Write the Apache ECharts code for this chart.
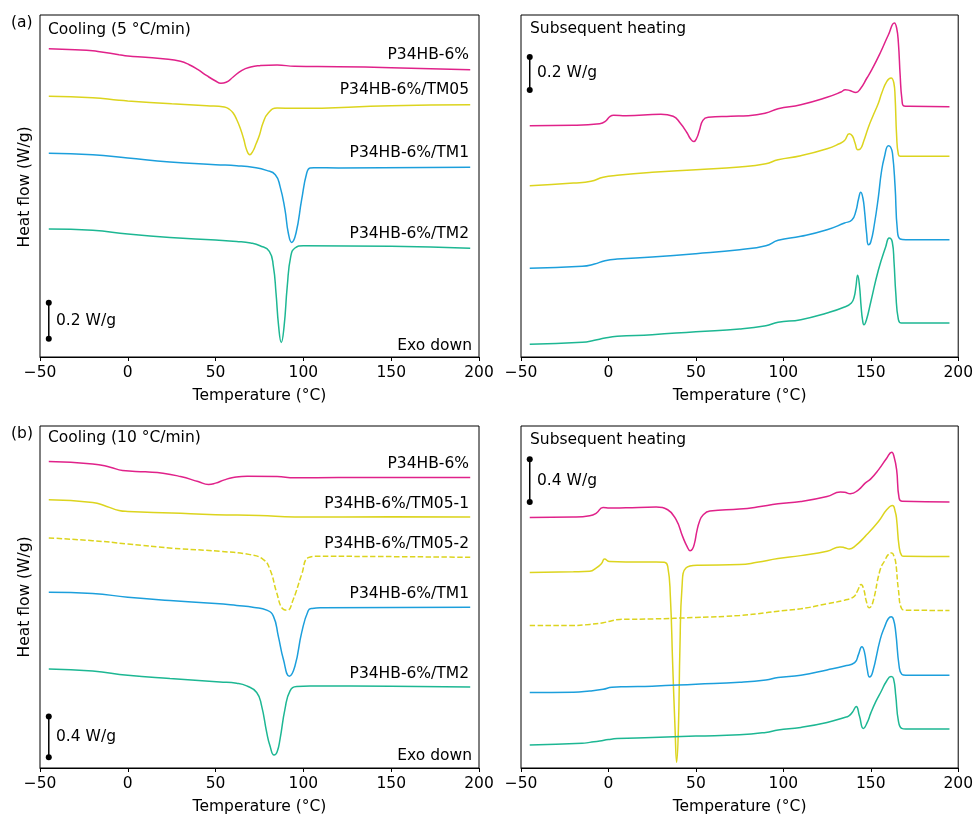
<!DOCTYPE html>
<html>
<head>
<meta charset="utf-8">
<script src="https://cdn.jsdelivr.net/npm/echarts@6/dist/echarts.min.js"></script>
<style>
html,body{margin:0;padding:0;background:#fff;}
#chart{width:976px;height:816px;}
</style>
</head>
<body>
<div id="chart"></div>
<script>
// ---- axis ticks ----
const xTicks = [-50, 0, 50, 100, 150, 200];

// ---- series names ----
const namesA = ['P34HB-6%', 'P34HB-6%/TM05', 'P34HB-6%/TM1', 'P34HB-6%/TM2'];
const namesB = ['P34HB-6%', 'P34HB-6%/TM05-1', 'P34HB-6%/TM05-2', 'P34HB-6%/TM1', 'P34HB-6%/TM2'];

// ---- (a) cooling 5 °C/min : [T (°C), heat flow (a.u., curves offset)] ----
const coolA_P34HB = [[-45,308.3],[-30,307.3],[-20,306.3],[-15,305],[-5,302.3],[0,301],[10,299.7],[20,298.3],[30,295.7],[35,292.3],[40,287.3],[45,281.3],[50,276],[53,273.7],[56,274.7],[60,280],[65,286.7],[70,290],[75,291.3],[85,292],[95,290.7],[120,290.3],[150,289.3],[195,287.3]];
const coolA_TM05 = [[-45,260.7],[-20,259.3],[-5,256.7],[0,256],[25,253.3],[45,251.3],[55,250],[58,247.5],[60,244],[62,237.5],[64,229],[66,218],[67.7,207],[69.5,202.3],[71.3,206],[73,213],[75,222],[77,234],[80,244],[85,249],[95,248.7],[150,251.3],[195,252.3]];
const coolA_TM1 = [[-45,203.7],[-20,202.3],[0,199],[24,195],[50,192.3],[62,191.3],[72,189.5],[79,186.6],[84,182.3],[86.7,170.6],[89.5,147.3],[91.4,124],[93.3,114.6],[95.8,124],[99,157.3],[101.9,184],[103.8,189],[106,189.3],[120,189],[195,189.7]];
const coolA_TM2 = [[-45,128],[-20,126.7],[0,123],[24,119.6],[50,117],[62,115.6],[70,114],[75.3,111.3],[80.6,105.6],[82.9,90.6],[84.4,64],[85.9,30.6],[87.4,14.6],[89,30.6],[90.8,70.6],[92.8,100.6],[95.2,109],[100,111.3],[150,110.7],[195,108.7]];

// ---- (a) subsequent heating ----
const heatA_P34HB = [[-45,231.3],[-20,231.7],[-5,233.3],[-2,235.3],[1,240.7],[3,241.7],[10,241.3],[30,242.7],[37,240.7],[41,234],[45,224],[47,218],[48.8,215.5],[50.5,219],[52,226.5],[54,236.7],[57,239.7],[70,240.7],[80,241.3],[90,244],[97,248.3],[110,252.3],[125,259.7],[133,265],[135.4,267.3],[138,266.5],[141.5,264.6],[144,268],[147.8,279],[150.6,287.3],[155.4,304],[160.1,322.3],[163.5,334],[164.8,329],[165.8,314],[166.8,282],[167.8,258],[169,251],[172,250.7],[195,250.3]];
const heatA_TM05 = [[-45,171.3],[-20,174],[-10,175.7],[-3,179.7],[5,181.7],[25,184.7],[50,187.3],[75,190],[90,193.3],[97,197.3],[110,201.3],[125,208.3],[132,213.3],[135,216.5],[137.7,223.3],[139.5,221],[141,214],[142.6,207.3],[144,208],[146,216],[148.7,230],[151,240],[154.4,254],[156.3,264],[159.2,275.6],[161.6,279],[163.2,274],[163.9,260.6],[164.8,220.6],[165.8,202.3],[167,200.7],[195,200.7]];
const heatA_TM1 = [[-45,88.7],[-15,90.7],[-8,93],[-2,96.3],[5,98],[25,100],[50,103.3],[75,107.3],[90,111.3],[97,116.7],[110,120.7],[125,127.3],[135,134],[139.2,137],[141.5,146],[143,158],[144.3,164.7],[145.5,159],[146.5,145],[147.6,124],[148.7,112.3],[150,115],[152,132],[154.4,160.7],[156,184],[157.8,200],[160.1,211.3],[161.3,210],[162.4,204],[163.9,170.6],[165.2,127.3],[166.8,118],[170,117.3],[195,117.3]];
const heatA_TM2 = [[-45,12.7],[-15,14.7],[-8,16.7],[-2,19],[5,20.7],[25,22.3],[50,25.3],[75,28],[90,31.3],[97,34.7],[110,37.3],[125,44],[135,50],[138.9,54],[140.5,60],[141.5,70],[142.5,81.7],[143.5,72],[144.5,50],[145.3,37],[146.1,32.3],[147.5,37],[150,55],[154.4,87.3],[158.6,110.6],[160.5,119],[162.3,115],[163.3,95],[164.3,64],[165.8,37.3],[167.5,34],[195,34]];

// ---- (b) cooling 10 °C/min ----
const coolB_P34HB = [[-45,307.3],[-20,305],[-10,301.7],[-3,298.3],[10,297],[20,295.7],[30,292.3],[40,287.3],[46,284.3],[50,285.7],[55,289],[60,291.3],[68,292.7],[85,292.3],[95,291],[120,291.3],[195,291.3]];
const coolB_TM05_1 = [[-45,269],[-20,266.3],[-12,262.3],[-5,258.3],[0,257.3],[25,255.7],[50,254],[75,253.3],[95,251.7],[150,252],[195,251.7]];
const coolB_TM05_2 = [[-45,230.7],[-20,228],[0,224.7],[25,220.5],[52.5,217.3],[69.6,214],[77.2,209],[81,199],[84.8,175.7],[88.2,159.7],[90.8,158.3],[94.2,169],[99,194],[102.8,211],[108,212.3],[150,212],[195,211.3]];
const coolB_TM1 = [[-45,176.3],[-20,175],[0,171.3],[24,168],[50,165],[62,163],[72,161],[79.1,158.3],[82.9,152.3],[85.7,132.3],[88.6,109],[92,92],[95.2,102.3],[99,135.7],[102.8,158],[105,160],[110,160.7],[195,161.3]];
const coolB_TM2 = [[-45,99.3],[-20,97.3],[0,93],[24,89.7],[52.5,86.3],[62,85],[67.7,82.3],[73.4,75.7],[76.2,62.3],[79.1,35.7],[81,22],[83.3,13],[85,16],[86.7,29],[89.5,59],[92.4,77.3],[96.2,81.7],[103.8,82.3],[150,82],[195,81.3]];

// ---- (b) subsequent heating ----
const heatB_P34HB = [[-45,251.3],[-20,251.7],[-10.7,253],[-6.9,255.7],[-3.1,261.3],[0.7,260.7],[10,261],[27.3,261.7],[33.9,259],[38.7,249],[42.4,232.3],[45,222],[46.7,218],[48,219.5],[49.3,226],[50.5,237],[52,247],[54,253.5],[58,257.7],[75,259.7],[85,261.7],[97,265],[110,267.3],[125,272.3],[132.6,276.7],[135,276.5],[138.3,275],[143,279],[146.8,285.7],[150,290],[154.4,299],[159.1,310.7],[162,316.7],[163.2,313],[164.8,299],[166.2,270.7],[168,267.5],[195,266.7]];
const heatB_TM05_1 = [[-45,196],[-20,196.7],[-10.7,197.3],[-6.9,200.7],[-4,205],[-2.2,209.5],[0.7,207],[10,206.7],[27.3,206.7],[32,206.3],[33.9,202.3],[35.4,172.3],[36.7,105.7],[38.1,39],[39,5.7],[40,39],[40.9,122.3],[42.1,182.3],[44.3,200.5],[51.9,203.3],[75,204],[85,206.3],[97,210],[110,213],[125,217.3],[132.4,221.7],[135,221],[137.7,219.7],[141,222.5],[146.8,232.3],[154.4,247.3],[159.1,259],[162.4,263.3],[164,257],[164.8,249],[166.2,222.3],[167.7,213],[169,212.3],[195,212]];
const heatB_TM05_2 = [[-45,143],[-20,143],[-10.7,144],[-3,145.7],[2,147.7],[6.4,149],[25,149.5],[50,151],[75,153],[90,155.7],[97,157.3],[110,159.7],[125,164.7],[135,168.3],[140.2,171.7],[142.5,178],[144.5,184],[146,179],[147.5,167],[149.1,160.7],[151,165],[155.4,199],[158,208],[160,214],[162,215.7],[163.5,211],[164.3,205.7],[165.8,179],[167.7,159.7],[170,158.3],[195,158]];
const heatB_TM1 = [[-45,75.7],[-20,76],[-10.7,77.3],[-3,79],[2,81],[10,81.5],[25,82],[50,84],[75,86],[90,88.3],[97,90.7],[110,93],[125,98.3],[135,102.3],[140.8,105.7],[143,114],[144.9,121.7],[146.3,117],[148,99],[149.3,91.3],[151,95.7],[155.4,129],[158,142],[160,149.7],[161.6,151.7],[163,149],[164.3,135.7],[166.2,102.3],[167.7,94],[170,93],[195,93]];
const heatB_TM2 = [[-45,23],[-15,24.7],[-10.7,25.7],[-5,27],[0,28.5],[5,29.5],[25,30.5],[50,32],[75,33.3],[90,35.7],[97,38],[110,40.7],[125,45.7],[135,50.7],[137.3,52],[139.5,56],[141.7,61.7],[143.5,52.3],[145.8,39.7],[148,45.7],[150,55],[153,67],[156,77],[159,87],[161.6,91.7],[163,89.7],[164.3,72.3],[165.8,47.3],[167.7,39.7],[170,39],[195,39]];

// ---- scale bars (same a.u. as curves) ----
const scaleA_cool = [[-45,18.3],[-45,54.3]];   // 0.2 W/g
const scaleA_heat = [[-45,267],[-45,300]];     // 0.2 W/g
const scaleB_cool = [[-45,10.7],[-45,51.7]];   // 0.4 W/g
const scaleB_heat = [[-45,266.7],[-45,309.7]]; // 0.4 W/g
const scaleLabels = ['0.2 W/g', '0.2 W/g', '0.4 W/g', '0.4 W/g'];

const C = {mag:'#e0228a', yel:'#dcd41e', blu:'#1c9fdc', tea:'#1db793'};
const FONT = 'DejaVu Sans';
const FS = 15.5;

const chart = echarts.init(document.getElementById('chart'), null, {renderer:'canvas'});

const grids = [
  {left:40, top:15, width:439, height:342},
  {left:521, top:15, width:439, height:342},
  {left:40, top:426, width:439, height:343},
  {left:521, top:426, width:439, height:343}
];
const yMax = [342, 342, 343, 343];

function xAxisFor(i){
  return {
    type:'value', gridIndex:i, min:xTicks[0], max:xTicks[xTicks.length-1], interval:50,
    axisLine:{show:true, onZero:false, lineStyle:{color:'#000', width:1}},
    axisTick:{show:true, inside:false, length:4, lineStyle:{color:'#000'}},
    axisLabel:{fontSize:FS, color:'#000', fontFamily:FONT, margin:8,
      formatter:v => v < 0 ? '\u2212' + Math.abs(v) : String(v)},
    splitLine:{show:false},
    name:'Temperature (°C)', nameLocation:'middle', nameGap:31,
    nameTextStyle:{fontSize:FS, color:'#000', fontFamily:FONT}
  };
}
function yAxisFor(i){
  return {type:'value', gridIndex:i, min:0, max:yMax[i], show:true,
    axisLine:{show:false}, axisTick:{show:false}, axisLabel:{show:false}, splitLine:{show:false}};
}

function line(data, color, gi, dashed){
  return {type:'line', data:data, xAxisIndex:gi, yAxisIndex:gi, showSymbol:false, symbol:'none',
    smooth:0.5, animation:false, silent:true,
    lineStyle:{color:color, width:1.5, type: dashed ? [5.5,2.4] : 'solid'}};
}
function scaleBar(data, gi){
  return {type:'line', data:data, xAxisIndex:gi, yAxisIndex:gi, showSymbol:true, symbol:'circle',
    symbolSize:6, animation:false, silent:true,
    itemStyle:{color:'#000'}, lineStyle:{color:'#000', width:1.5}};
}

const series = [
  line(coolA_P34HB, C.mag, 0), line(coolA_TM05, C.yel, 0), line(coolA_TM1, C.blu, 0), line(coolA_TM2, C.tea, 0),
  line(heatA_P34HB, C.mag, 1), line(heatA_TM05, C.yel, 1), line(heatA_TM1, C.blu, 1), line(heatA_TM2, C.tea, 1),
  line(coolB_P34HB, C.mag, 2), line(coolB_TM05_1, C.yel, 2), line(coolB_TM05_2, C.yel, 2, true), line(coolB_TM1, C.blu, 2), line(coolB_TM2, C.tea, 2),
  line(heatB_P34HB, C.mag, 3), line(heatB_TM05_1, C.yel, 3), line(heatB_TM05_2, C.yel, 3, true), line(heatB_TM1, C.blu, 3), line(heatB_TM2, C.tea, 3),
  scaleBar(scaleA_cool, 0), scaleBar(scaleA_heat, 1), scaleBar(scaleB_cool, 2), scaleBar(scaleB_heat, 3)
];

function txt(x, y, s, align, extra){
  return Object.assign({type:'text', x:x, y:y, silent:true, style:{text:s, fontSize:FS, fontFamily:FONT, fill:'#000',
    textAlign:align || 'left', textVerticalAlign:'middle'}}, extra || {});
}

const graphics = [
  txt(11, 22.5, '(a)'),
  txt(48, 30, 'Cooling (5 °C/min)'),
  txt(469, 54.5, namesA[0], 'right'),
  txt(469, 90.3, namesA[1], 'right'),
  txt(469, 153, namesA[2], 'right'),
  txt(469, 234, namesA[3], 'right'),
  txt(472, 346, 'Exo down', 'right'),
  txt(56, 320.7, scaleLabels[0]),
  txt(530, 29, 'Subsequent heating'),
  txt(537, 73.3, scaleLabels[1]),
  txt(11, 434, '(b)'),
  txt(48, 438.3, 'Cooling (10 °C/min)'),
  txt(469, 464, namesB[0], 'right'),
  txt(469, 503.7, namesB[1], 'right'),
  txt(469, 544.3, namesB[2], 'right'),
  txt(469, 594.3, namesB[3], 'right'),
  txt(469, 674.3, namesB[4], 'right'),
  txt(472, 756, 'Exo down', 'right'),
  txt(56, 737.3, scaleLabels[2]),
  txt(530, 440, 'Subsequent heating'),
  txt(537, 480.7, scaleLabels[3]),
  {type:'text', x:25, y:187, rotation:Math.PI/2, silent:true,
    style:{text:'Heat flow (W/g)', fontSize:FS, fontFamily:FONT, fill:'#000', textAlign:'center', textVerticalAlign:'middle'}},
  {type:'text', x:25, y:597, rotation:Math.PI/2, silent:true,
    style:{text:'Heat flow (W/g)', fontSize:FS, fontFamily:FONT, fill:'#000', textAlign:'center', textVerticalAlign:'middle'}}
];

chart.setOption({
  animation:false,
  backgroundColor:'#fff',
  grid: grids.map(g => Object.assign({show:true, borderColor:'#000', borderWidth:1, backgroundColor:'transparent'}, g)),
  xAxis: [0,1,2,3].map(xAxisFor),
  yAxis: [0,1,2,3].map(yAxisFor),
  series: series,
  graphic: graphics
});
</script>
</body>
</html>
